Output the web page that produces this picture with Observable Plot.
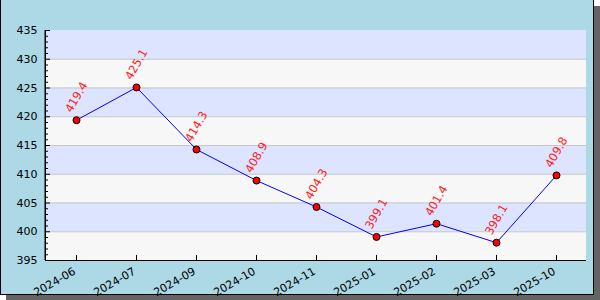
<!DOCTYPE html>
<html>
<head>
<meta charset="utf-8">
<script src="https://cdn.jsdelivr.net/npm/d3@7"></script>
<script src="https://cdn.jsdelivr.net/npm/@observablehq/plot@0.6"></script>
<style>
  html, body { margin: 0; padding: 0; background: white; }
  #wrap { position: relative; width: 600px; height: 300px; overflow: hidden; }
  #bg { position: absolute; left: 0; top: 0; width: 594px; height: 295px; box-sizing: border-box;
        background: #add8e6; border-left: 1px solid #000; border-right: 1px solid #000; border-bottom: 1px solid #000;
        box-shadow: 6px 6px 0 #646464; }
  #chart { position: absolute; left: 0; top: 0; }
</style>
</head>
<body>
<div id="wrap"><div id="bg"></div><div id="chart"></div></div>
<script>
const months = ["2024-06","2024-07","2024-09","2024-10","2024-11","2025-01","2025-02","2025-03","2025-10"];
const values = [419.4, 425.1, 414.3, 408.9, 404.3, 399.1, 401.4, 398.1, 409.8];
const yTicks = [395, 400, 405, 410, 415, 420, 425, 430, 435];
const yMinorTicks = [396,397,398,399,401,402,403,404,406,407,408,409,411,412,413,414,416,417,418,419,421,422,423,424,426,427,428,429,431,432,433,434];
const bandLows = [395, 400, 405, 410, 415, 420, 425, 430];

const data = months.map((m, i) => ({month: m, value: values[i]}));
const bands = bandLows.map((lo, i) => ({y1: lo, y2: lo + 5, alt: i % 2}));

const W = 600, H = 300, ML = 45, MR = 14, MT = 30, MB = 40;
const plotW = W - ML - MR, plotH = H - MT - MB;

const chart = Plot.plot({
  width: W,
  height: H,
  marginLeft: ML,
  marginRight: MR,
  marginTop: MT,
  marginBottom: MB,
  style: {background: "transparent", fontFamily: "DejaVu Sans, sans-serif", fontSize: "11px", color: "#000"},
  x: {type: "point", domain: months, padding: 0.5, label: null},
  y: {domain: [395, 435], label: null},
  marks: [
    Plot.rectY(bands, {y1: "y1", y2: "y2", fill: d => d.alt ? "#dde4ff" : "#f7f7f7"}),
    Plot.ruleY(yTicks.slice(1, -1), {stroke: "#c8c8c8", strokeWidth: 1}),
    Plot.ruleY([395], {stroke: "#000", strokeWidth: 1}),
    Plot.rectY([{y1: 395, y2: 435}], {y1: "y1", y2: "y2", insetRight: plotW - 1, insetLeft: -0.5, fill: "#000"}),
    Plot.tickY(yMinorTicks, {y: d => d, insetRight: plotW - 3, stroke: "#000"}),
    Plot.tickY(yTicks, {y: d => d, insetRight: plotW - 5, stroke: "#000"}),
    Plot.tickX(months, {x: d => d, insetTop: plotH - 5, stroke: "#000"}),
    Plot.axisY({ticks: yTicks, tickSize: 0, tickPadding: 8, fontSize: 11, label: null}),
    Plot.axisX({tickSize: 0, tickRotate: -30, tickPadding: 10, dx: -2, fontSize: 11, label: null}),
    Plot.line(data, {x: "month", y: "value", stroke: "#0000ff", strokeWidth: 1}),
    Plot.dot(data, {x: "month", y: "value", r: 3.5, fill: "#ff0000", stroke: "#000", strokeWidth: 1}),
    Plot.text(data, {x: "month", y: "value", text: d => d.value.toFixed(1), fill: "#ff2020",
      rotate: -60, dy: -23, fontSize: 11.5, textAnchor: "middle", lineAnchor: "middle"})
  ]
});
document.getElementById("chart").appendChild(chart);
</script>
</body>
</html>
